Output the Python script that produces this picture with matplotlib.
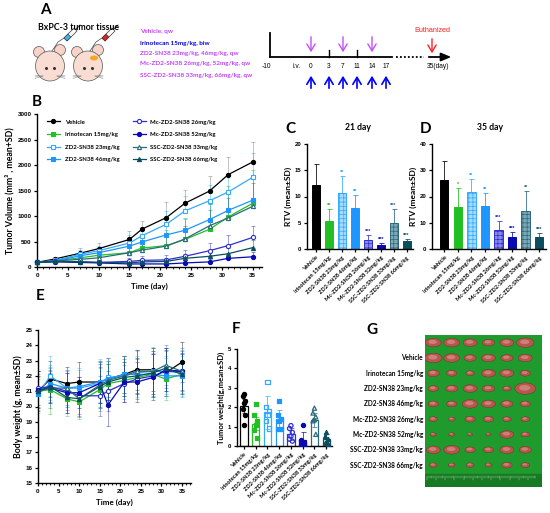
import matplotlib
matplotlib.use('Agg')
import matplotlib.pyplot as plt
import numpy as np
from matplotlib.patches import Ellipse, Polygon
from matplotlib.lines import Line2D

plt.rcParams['font.family'] = ['Lato', 'DejaVu Sans']
plt.rcParams['font.weight'] = 'bold'
plt.rcParams['axes.linewidth'] = 1.0
plt.rcParams['hatch.linewidth'] = 0.5

# ---------------- data ----------------
groups = ['Vehicle', 'Irinotecan 15mg/kg', 'ZD2-SN38 23mg/kg', 'ZD2-SN38 46mg/kg',
          'Mc-ZD2-SN38 26mg/kg', 'Mc-ZD2-SN38 52mg/kg', 'SSC-ZD2-SN38 33mg/kg',
          'SSC-ZD2-SN38 66mg/kg']
colors = ['#000000', '#22C022', '#33AAFF', '#1E96FF', '#2F2FD0', '#0A0AB4', '#2A6A7E', '#0C4E5E']
light = ['#000000', '#22C022', '#A8DAFF', '#1E96FF', '#8C8CE8', '#0A0AB4', '#7FA8B4', '#0C4E5E']
hatches = [None, None, '++++', None, '++++', None, '++++', None]
markers = ['o', 's', 's', 's', 'o', 'o', '^', '^']
filled = [True, True, False, True, False, True, False, True]

days = [0, 3, 7, 10, 15, 17, 21, 24, 28, 31, 35]

tv_mean = [
    [90, 160, 270, 360, 540, 740, 970, 1250, 1490, 1810, 2060],
    [90, 120, 180, 230, 280, 370, 420, 540, 740, 980, 1250],
    [90, 130, 250, 320, 470, 610, 840, 1100, 1300, 1470, 1760],
    [90, 120, 220, 280, 410, 490, 630, 720, 930, 1110, 1310],
    [90, 120, 100, 90, 110, 130, 140, 210, 320, 420, 580],
    [90, 100, 90, 80, 60, 60, 60, 80, 100, 170, 200],
    [90, 120, 150, 180, 280, 330, 410, 550, 810, 960, 1190],
    [90, 110, 100, 90, 80, 100, 110, 170, 210, 260, 380],
]
tv_sd = [
    [10, 30, 110, 110, 160, 160, 300, 260, 300, 350, 400],
    [10, 30, 80, 100, 150, 200, 300, 400, 500, 600, 650],
    [10, 30, 80, 100, 150, 150, 250, 300, 300, 380, 480],
    [10, 30, 80, 90, 120, 150, 200, 250, 300, 350, 450],
    [10, 20, 40, 50, 60, 80, 100, 120, 150, 200, 220],
    [10, 20, 30, 30, 30, 30, 40, 50, 60, 80, 100],
    [10, 20, 60, 80, 100, 150, 200, 250, 300, 400, 450],
    [10, 20, 30, 40, 40, 50, 60, 80, 100, 120, 150],
]

rtv21_mean = [12.2, 5.3, 10.7, 7.9, 1.7, 0.7, 4.9, 1.5]
rtv21_sd = [3.9, 2.4, 3.3, 2.3, 1.0, 0.5, 2.7, 0.4]
rtv21_sig = ['', '**', '**', '**', '***', '***', '***', '***']
rtv35_mean = [26.3, 16.0, 21.8, 16.4, 7.4, 4.6, 14.6, 4.6]
rtv35_sd = [7.2, 7.2, 4.7, 5.0, 3.3, 2.0, 7.4, 1.5]
rtv35_sig = ['', '*', '**', '**', '***', '***', '**', '***']

bw_mean = [
    [21.0, 21.8, 21.5, 21.6, 21.6, 21.8, 22.1, 22.4, 22.4, 22.2, 22.9],
    [21.0, 21.1, 20.5, 20.3, 21.1, 21.5, 21.7, 21.9, 22.1, 21.8, 22.1],
    [20.8, 22.0, 21.2, 21.2, 21.5, 21.9, 22.0, 22.2, 22.3, 22.3, 22.2],
    [20.8, 21.5, 21.2, 21.3, 21.6, 21.8, 22.1, 22.1, 22.1, 22.0, 22.0],
    [21.2, 21.3, 21.0, 20.7, 20.7, 21.0, 21.5, 21.8, 22.0, 22.3, 22.3],
    [21.1, 21.2, 20.9, 20.9, 21.5, 20.1, 21.6, 21.6, 21.9, 22.4, 22.3],
    [21.0, 21.2, 21.2, 20.5, 21.4, 21.7, 22.0, 22.3, 22.3, 22.7, 22.3],
    [21.0, 21.3, 20.6, 20.5, 21.3, 21.6, 21.9, 22.0, 22.2, 22.5, 22.1],
]
bw_sd = [
    [1.3, 1.2, 1.1, 1.3, 1.4, 1.4, 1.2, 1.3, 1.4, 1.5, 1.3],
    [0.9, 1.6, 1.1, 1.1, 1.4, 1.3, 1.2, 1.3, 1.5, 1.4, 1.2],
    [1.2, 1.3, 1.2, 1.3, 1.6, 1.3, 1.3, 1.4, 1.6, 1.5, 1.5],
    [1.0, 1.1, 1.2, 1.1, 1.3, 1.2, 1.2, 1.2, 1.4, 1.3, 1.4],
    [1.1, 1.0, 1.2, 1.2, 1.3, 1.3, 1.2, 1.3, 1.4, 1.3, 1.3],
    [1.2, 1.0, 1.3, 1.0, 1.3, 1.4, 1.3, 1.3, 1.5, 1.4, 1.2],
    [1.1, 1.3, 1.1, 1.2, 1.5, 1.3, 1.3, 1.4, 1.5, 1.3, 1.5],
    [1.0, 1.1, 1.0, 1.1, 1.3, 1.2, 1.2, 1.2, 1.4, 1.3, 1.3],
]

tw_mean = [2.05, 1.15, 1.75, 1.38, 0.62, 0.30, 1.35, 0.38]
tw_sd = [0.35, 0.35, 0.85, 0.5, 0.3, 0.42, 0.35, 0.22]
tw_points = [
    [2.7, 2.6, 2.3, 2.2, 1.9, 1.6, 1.1],
    [2.15, 1.6, 1.3, 1.1, 0.8, 0.4],
    [3.3, 2.0, 1.8, 1.6, 1.3, 0.9],
    [2.3, 1.6, 1.4, 1.3, 0.9, 0.9],
    [1.05, 0.9, 0.7, 0.5, 0.35, 0.25],
    [1.1, 0.3, 0.15, 0.1, 0.05, 0.05],
    [1.95, 1.7, 1.5, 1.35, 1.3, 0.6],
    [0.7, 0.5, 0.35, 0.2, 0.15, 0.1],
]
jitter = [0.0, -0.12, 0.12, 0.0, -0.12, 0.12, 0.0]

photo_labels = ['Vehicle', 'Irinotecan 15mg/kg', 'ZD2-SN38 23mg/kg', 'ZD2-SN38 46mg/kg',
                'Mc-ZD2-SN38 26mg/kg', 'Mc-ZD2-SN38 52mg/kg', 'SSC-ZD2-SN38 33mg/kg',
                'SSC-ZD2-SN38 66mg/kg']
photo_label_rows = [0.95, 2, 3, 4, 5, 6, 7, 8]
tumor_sizes = [
    [0.9, 0.9, 0.8, 0.7, 0.8, 1.0],
    [1.0, 0.9, 0.7, 0.8, 0.7, 0.8],
    [0.7, 0.6, 0.5, 0.8, 0.8, 0.6],
    [0.6, 0.7, 0.8, 0.7, 0.5, 1.2],
    [0.6, 0.6, 0.9, 0.8, 0.7, 0.6],
    [0.5, 0.4, 0.6, 0.6, 0.5, 0.5],
    [0.35, 0.35, 0.3, 0.3, 0.8, 0.5],
    [0.8, 0.9, 0.6, 0.6, 0.8, 0.7],
    [0.45, 0.4, 0.45, 0.4, 0.6, 0.5],
]

dose_legend = ['Vehicle, qw', 'Irinotecan 15mg/kg, biw', 'ZD2-SN38 23mg/kg, 46mg/kg, qw',
               'Mc-ZD2-SN38 26mg/kg, 52mg/kg, qw', 'SSC-ZD2-SN38 33mg/kg, 66mg/kg, qw']
dose_colors = ['#C040FF', '#0000E0', '#C040FF', '#C040FF', '#C040FF']

# ---------------- figure ----------------
W, H = 550, 513
fig = plt.figure(figsize=(5.5, 5.13), dpi=100)


def add_ax(l, t, r, b):
    return fig.add_axes([l / W, 1 - b / H, (r - l) / W, (b - t) / H])


def prism(ax, fs=4.5):
    for s in ['top', 'right']:
        ax.spines[s].set_visible(False)
    ax.tick_params(direction='out', length=2.5, width=0.9, labelsize=fs, pad=1.5)
    for lab in ax.get_yticklabels():
        lab.set_fontweight('bold')
        lab.set_family(['Liberation Sans'])
    for lab in ax.get_xticklabels():
        lab.set_fontweight('bold')


def num_xticks(ax):
    for lab in ax.get_xticklabels():
        lab.set_family(['Liberation Sans'])
        lab.set_fontweight('bold')


ov = fig.add_axes([0, 0, 1, 1])
ov.set_xlim(0, W)
ov.set_ylim(H, 0)
ov.axis('off')

# panel letters
for t, x, y in [('A', 45, 10), ('B', 37, 102), ('C', 290, 129), ('D', 426, 129),
                ('E', 40, 296), ('F', 236, 329), ('G', 372, 330)]:
    ov.text(x, y, t, fontsize=11, fontweight='bold', ha='center', va='center')

# ---------------- panel A ----------------
ov.text(78, 28, 'BxPC-3 tumor tissue', fontsize=6.3, fontweight='bold', ha='center', va='center')
for i, (t, c) in enumerate(zip(dose_legend, dose_colors)):
    ov.text(140, [32, 43, 53, 63, 76][i], t, fontsize=4.6, color=c, fontweight='bold', va='center')


def mouse(cx, cy, syr_col, tumor=False):
    ov.add_patch(Ellipse((cx - 11, cy - 14), 11, 11, fc='#F7D3C9', ec='#555', lw=0.5))
    ov.add_patch(Ellipse((cx + 10, cy - 16), 11, 11, fc='#F7D3C9', ec='#555', lw=0.5))
    ov.add_patch(Ellipse((cx, cy), 29, 30, fc='#F9DCD2', ec='#555', lw=0.5))
    ov.plot([cx - 4, cx + 4], [cy + 2, cy + 2], 'o', ms=1.2, color='#333')
    for dy in (-1.5, 0, 1.5):
        ov.plot([cx - 15, cx - 7], [cy + 11 + dy, cy + 10], color='#777', lw=0.3)
        ov.plot([cx + 7, cx + 15], [cy + 10, cy + 11 + dy], color='#777', lw=0.3)
    ov.plot([cx + 2, cx + 8, cx + 14], [cy - 15, cy - 24, cy - 28], color='#444', lw=0.5)
    sx, sy = cx + 14, cy - 28
    ov.add_patch(Polygon([[sx, sy], [sx + 3, sy + 3], [sx + 13, sy - 7], [sx + 10, sy - 10]],
                         closed=True, fc='white', ec='#333', lw=0.5))
    ov.add_patch(Polygon([[sx, sy], [sx + 3, sy + 3], [sx + 7, sy - 1], [sx + 4, sy - 4]],
                         closed=True, fc=syr_col, ec='#333', lw=0.4))
    ov.plot([sx + 12, sx + 16], [sy - 9, sy - 13], color='#333', lw=0.6)
    if tumor:
        ov.add_patch(Ellipse((cx + 6, cy - 8), 8, 5, fc='#F5A623', ec='none'))


mouse(50, 66, '#39B6E8')
mouse(88, 66, '#E02020', tumor=True)

# timeline
ov.plot([270, 392], [57, 57], color='black', lw=1.3)
ov.plot([396, 424], [57, 57], color='black', lw=1.3, ls=(0, (1, 1.2)))
ov.annotate('', xy=(454, 57), xytext=(426, 57),
            arrowprops=dict(arrowstyle='-|>,head_length=0.6,head_width=0.25', color='black', lw=1.3))
ov.plot([270, 270], [33, 57], color='black', lw=1.3)
for x in (329, 357):
    ov.plot([x, x], [50, 57], color='black', lw=1.0)
for x in (311, 343, 372):
    ov.annotate('', xy=(x, 55), xytext=(x, 34),
                arrowprops=dict(arrowstyle='->,head_length=0.5,head_width=0.3', color='#C050FF', lw=1.0))
for x in (311, 329, 343, 357, 372, 386):
    ov.annotate('', xy=(x, 73), xytext=(x, 91),
                arrowprops=dict(arrowstyle='->,head_length=0.5,head_width=0.3', color='#0000FF', lw=1.2))
ov.annotate('', xy=(432, 56), xytext=(432, 36),
            arrowprops=dict(arrowstyle='->,head_length=0.5,head_width=0.3', color='#FF2020', lw=1.0))
ov.text(432, 31, 'Euthanized', fontsize=5.2, color='#FF2020', ha='center', va='center',
        family=['Liberation Sans'], fontweight='normal')
for t, x in [('-10', 266), ('i.v.', 297), ('0', 311), ('3', 329), ('7', 343), ('11', 357),
             ('14', 372), ('17', 386), ('35(day)', 438)]:
    ov.text(x, 66, t, fontsize=4.8, ha='center', va='center', family=['Liberation Sans'],
            fontweight='normal')

# ---------------- panel B ----------------
axB = add_ax(37, 114, 262, 267)
for i in range(8):
    ec = '#808080' if i == 0 else colors[i]
    axB.errorbar(days, tv_mean[i], yerr=[np.zeros(len(days)), tv_sd[i]], fmt='none',
                 ecolor=ec, alpha=0.55, elinewidth=0.6, capsize=1.6, capthick=0.6)
handles = []
for i in range(8):
    mfc = colors[i] if filled[i] else 'white'
    axB.plot(days, tv_mean[i], color=colors[i], marker=markers[i], ms=3, mfc=mfc,
             mec=colors[i], mew=0.8, lw=0.9, clip_on=False, zorder=3)
    handles.append(Line2D([], [], color=colors[i], marker=markers[i], ms=3, mfc=mfc,
                          mec=colors[i], mew=0.8, lw=0.9))
axB.set_xlim(0, 36.5)
axB.set_ylim(0, 3000)
axB.set_xticks([0, 5, 10, 15, 20, 25, 30, 35])
axB.set_xticks(range(0, 37), minor=True)
axB.set_yticks([0, 500, 1000, 1500, 2000, 2500, 3000])
axB.tick_params(which='minor', length=1.5, width=0.6)
prism(axB)
num_xticks(axB)
axB.set_xlabel('Time (day)', fontsize=5.8, fontweight='bold', labelpad=4)
axB.set_ylabel('Tumor Volume (mm³ , mean+SD)', fontsize=6.3, fontweight='bold', labelpad=2)
leg = axB.legend(handles, groups, ncol=2, loc='upper left', bbox_to_anchor=(0.02, 1.0),
                 frameon=False, prop={'size': 4.3, 'weight': 'bold'}, handlelength=2.2,
                 columnspacing=2.2, labelspacing=1.25, handletextpad=0.8)


# ---------------- panels C / D ----------------
def rtv_panel(ax, means, sds, sig, ymax, step, title_x, title):
    x = np.arange(8)
    for i in range(8):
        ax.bar(x[i], means[i], width=0.62, color=light[i], edgecolor=colors[i],
               hatch=hatches[i], lw=0.7, zorder=2)
        ax.errorbar(x[i], means[i], yerr=[[0], [sds[i]]], fmt='none', ecolor=colors[i],
                    elinewidth=0.7, capsize=1.8, capthick=0.7, alpha=0.8, zorder=1)
        if sig[i]:
            ax.text(x[i], means[i] + sds[i] + ymax * 0.01, sig[i], fontsize=4, ha='center',
                    va='bottom', color=colors[i], family=['Liberation Sans'])
    ax.set_ylim(0, ymax)
    ax.set_yticks(np.arange(0, ymax + 0.1, step))
    ax.set_xticks(x)
    ax.set_xticklabels(groups, rotation=45, ha='right', rotation_mode='anchor')
    prism(ax, 4.3)
    ax.tick_params(axis='x', labelsize=4.1, pad=2)
    ax.set_ylabel('RTV (mean±SD)', fontsize=6, fontweight='bold', labelpad=2)
    ov.text(title_x, 127, title, fontsize=6.2, fontweight='bold', ha='center', va='center')


axC = add_ax(307, 144, 413, 249)
rtv_panel(axC, rtv21_mean, rtv21_sd, rtv21_sig, 20, 5, 358, '21 day')
axC.set_xlim(-0.7, 7.5)
axD = add_ax(432, 144, 546, 249)
rtv_panel(axD, rtv35_mean, rtv35_sd, rtv35_sig, 40, 10, 490, '35 day')
axD.set_xlim(-0.9, 7.5)

# ---------------- panel E ----------------
axE = add_ax(38, 330, 191, 483)
for i in range(8):
    axE.errorbar(days, bw_mean[i], yerr=bw_sd[i], fmt='none', ecolor=colors[i], alpha=0.45,
                 elinewidth=0.6, capsize=1.6, capthick=0.6)
for i in range(8):
    mfc = colors[i] if filled[i] else 'white'
    axE.plot(days, bw_mean[i], color=colors[i], marker=markers[i], ms=3, mfc=mfc,
             mec=colors[i], mew=0.8, lw=0.9, clip_on=False, zorder=3)
axE.set_xlim(0, 37.2)
axE.set_ylim(15, 25)
axE.set_xticks([0, 5, 10, 15, 20, 25, 30, 35])
axE.set_xticks(range(0, 38), minor=True)
axE.set_yticks(range(15, 26))
axE.tick_params(which='minor', length=1.5, width=0.6)
prism(axE)
num_xticks(axE)
axE.set_xlabel('Time (day)', fontsize=5.8, fontweight='bold', labelpad=4)
axE.set_ylabel('Body weight (g, mean±SD)', fontsize=6.3, fontweight='bold', labelpad=2)

# ---------------- panel F ----------------
axF = add_ax(237, 349, 332, 446)
xF = np.arange(8)
for i in range(8):
    axF.bar(xF[i], tw_mean[i], width=0.62, color='white', edgecolor=colors[i], lw=0.9, zorder=1)
    axF.errorbar(xF[i], tw_mean[i], yerr=tw_sd[i], fmt='none', ecolor=colors[i], alpha=0.7,
                 elinewidth=0.7, capsize=1.8, capthick=0.7, zorder=2)
    pts = tw_points[i]
    mfc = colors[i] if filled[i] else 'none'
    axF.scatter(xF[i] + np.array(jitter[:len(pts)]), pts, s=9, marker=markers[i],
                facecolors=mfc, edgecolors=colors[i], linewidths=0.9, zorder=3)
axF.set_xlim(-0.6, 7.5)
axF.set_ylim(0, 5)
axF.set_yticks(range(0, 6))
axF.set_xticks(xF)
axF.set_xticklabels(groups, rotation=45, ha='right', rotation_mode='anchor')
prism(axF, 4.3)
axF.tick_params(axis='x', labelsize=4.1, pad=2)
axF.set_ylabel('Tumor weight(g,mean±SD)', fontsize=5.6, fontweight='bold', labelpad=2)

# ---------------- panel G ----------------
axG = add_ax(425, 335, 542, 487)
axG.set_facecolor('#1F9A2C')
axG.set_xlim(0, 6.36)
axG.set_ylim(9.93, 0)
axG.set_xticks([])
axG.set_yticks([])
for s in axG.spines.values():
    s.set_visible(False)
axG.axhspan(9.1, 9.93, color='#167A22')
for k in range(60):
    xx = 0.1 + k * 0.1
    axG.plot([xx, xx], [9.2, 9.35 if k % 5 else 9.5], color='#CFE8CF', lw=0.3)
for r, row in enumerate(tumor_sizes):
    for c, sz in enumerate(row):
        axG.add_patch(Ellipse((c + 0.45, r + 0.5), 0.95 * sz, 0.62 * sz, fc='#B5574F',
                              ec='#7A2A25', lw=0.3))
        axG.add_patch(Ellipse((c + 0.42, r + 0.45), 0.5 * sz, 0.3 * sz, fc='#D9928A',
                              ec='none', alpha=0.7))
for lab, r in zip(photo_labels, photo_label_rows):
    ov.text(423, 335 + (r + 0.5) * 15.3, lab, fontsize=4.7, fontweight='bold', ha='right',
            va='center')

fig.savefig('out.png', dpi=100)
